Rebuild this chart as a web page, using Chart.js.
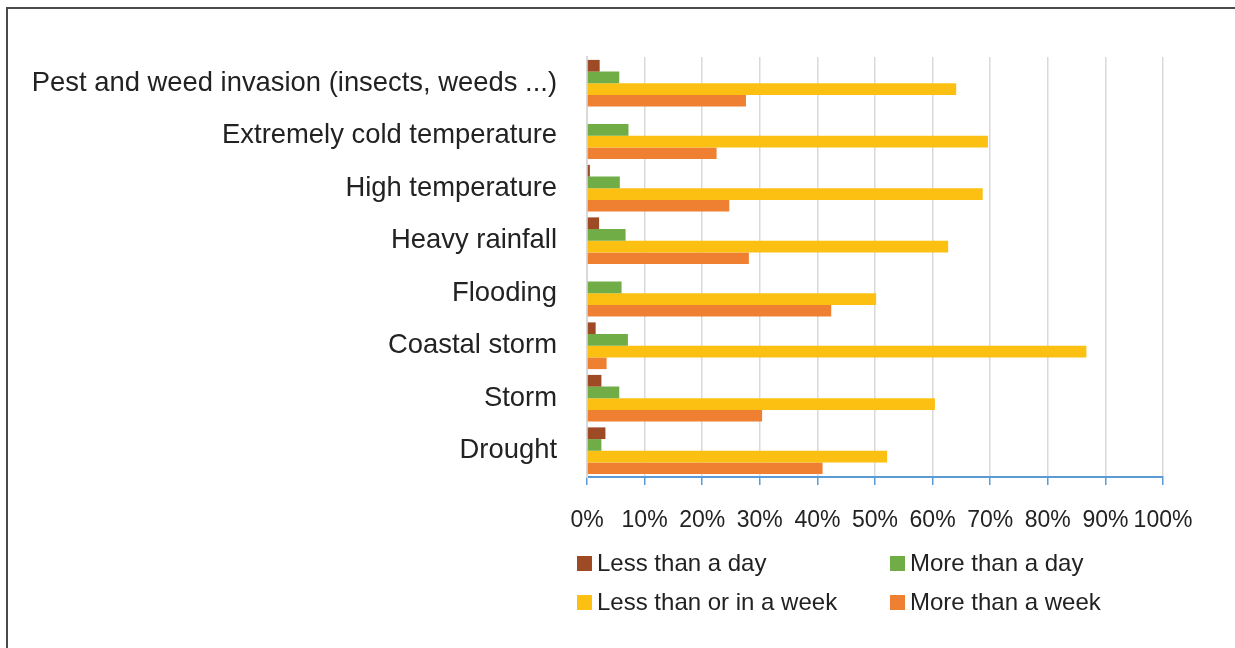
<!DOCTYPE html>
<html>
<head>
<meta charset="utf-8">
<script src="https://cdn.jsdelivr.net/npm/chart.js@4"></script>
<style>
  html, body { margin: 0; padding: 0; background: #fff; }
  body { width: 1235px; height: 648px; position: relative; overflow: hidden; font-family: "Liberation Sans", Arial, sans-serif; }
  #frame { position: absolute; left: 6px; top: 7px; width: 1300px; height: 700px; border-top: 2px solid #4a4a4a; border-left: 2px solid #4a4a4a; }
  #wrap { position: absolute; left: 0; top: 0; width: 1235px; height: 648px; }
  #legenda { position: absolute; left: 577px; top: 551px; display: grid; grid-template-columns: 313px 260px; row-gap: 15px; font-size: 24px; color: #222; }
  #legenda div { display: flex; align-items: center; height: 24px; white-space: nowrap; }
  #legenda span { display: inline-block; width: 15px; height: 15px; margin-right: 5px; }
</style>
</head>
<body>
<div id="frame"></div>
<div id="wrap"><canvas id="grafico" width="1235" height="648"></canvas></div>
<div id="legenda"></div>
<script>
// categorias (de cima para baixo)
const categorias = [
  "Pest and weed invasion (insects, weeds ...)",
  "Extremely cold temperature",
  "High temperature",
  "Heavy rainfall",
  "Flooding",
  "Coastal storm",
  "Storm",
  "Drought"
];

// valores em %
const menosDeUmDia = [2.2, 0, 0.5, 2.1, 0, 1.5, 2.5, 3.2];
const maisDeUmDia = [5.6, 7.2, 5.7, 6.7, 6.0, 7.1, 5.6, 2.5];
const menosOuNaSemana = [64.1, 69.6, 68.7, 62.7, 50.2, 86.7, 60.4, 52.1];
const maisDeUmaSemana = [27.6, 22.5, 24.7, 28.1, 42.4, 3.4, 30.4, 40.9];

const rotulosEixo = ["0%", "10%", "20%", "30%", "40%", "50%", "60%", "70%", "80%", "90%", "100%"];

const series = [
  { label: "Less than a day", data: menosDeUmDia, cor: "#9e4a24" },
  { label: "More than a day", data: maisDeUmDia, cor: "#70ad47" },
  { label: "Less than or in a week", data: menosOuNaSemana, cor: "#fcc012" },
  { label: "More than a week", data: maisDeUmaSemana, cor: "#ef7f31" }
];

const fonte = "'Liberation Sans', Arial, sans-serif";

new Chart(document.getElementById("grafico"), {
  type: "bar",
  data: {
    labels: categorias,
    datasets: series.map((s) => ({
      label: s.label,
      data: s.data,
      backgroundColor: s.cor,
      borderWidth: 0,
      barPercentage: 1,
      categoryPercentage: 0.89
    }))
  },
  options: {
    indexAxis: "y",
    responsive: false,
    animation: false,
    layout: { padding: { top: 57, right: 72, left: 0, bottom: 0 } },
    plugins: { legend: { display: false }, tooltip: { enabled: false } },
    scales: {
      x: {
        min: 0,
        max: 100,
        ticks: {
          stepSize: 10,
          padding: 22,
          maxRotation: 0,
          minRotation: 0,
          autoSkip: false,
          color: "#222",
          font: { family: fonte, size: 23 },
          callback: (v, i) => rotulosEixo[i]
        },
        grid: { color: "#d9d9d9", lineWidth: 1.5, tickColor: "#5b9bd5", tickLength: 8 },
        border: { color: "#5b9bd5", width: 2 },
        afterFit: (scale) => { scale.height = 171; }
      },
      y: {
        ticks: {
          padding: 30,
          color: "#222",
          font: { family: fonte, size: 27.4 }
        },
        grid: { display: false, drawTicks: false },
        border: { color: "#d9d9d9", width: 2 },
        afterFit: (scale) => { scale.width = 587; }
      }
    }
  }
});

// legenda em grade 2x2
const legenda = document.getElementById("legenda");
series.forEach((s) => {
  const item = document.createElement("div");
  item.innerHTML = '<span style="background:' + s.cor + '"></span>' + s.label;
  legenda.appendChild(item);
});
</script>
</body>
</html>
